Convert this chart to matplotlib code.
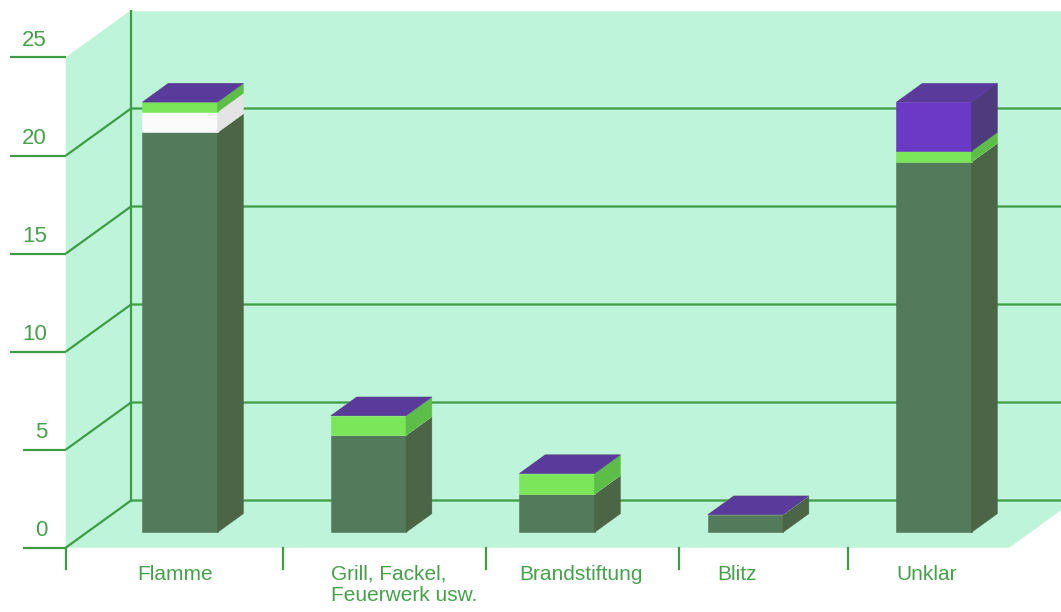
import matplotlib
matplotlib.use('Agg')
import matplotlib.pyplot as plt
from matplotlib.patches import Polygon

# data
categories = ['Flamme', 'Grill, Fackel,\nFeuerwerk usw.', 'Brandstiftung', 'Blitz', 'Unklar']
dark_vals = [20.4, 4.95, 1.95, 0.9, 18.9]
white_vals = [1.05, 0, 0, 0, 0]
light_vals = [0.5, 1.0, 1.05, 0, 0.55]
purple_vals = [0, 0, 0, 0, 2.5]
y_ticks = [0, 5, 10, 15, 20, 25]
grid_vals = [0, 5, 10, 15, 20]
separators = [-0.493, 0.658, 1.735, 2.759, 3.655]   # category dividers under the floor
label_shift = [-0.03, 0, 0, 0.05, 0]                 # small nudges of the category labels

# (front, side, top) colours per series
series = [
    (dark_vals, ('#537a5a', '#4b6546', '#5a8560')),
    (white_vals, ('#fbfbfb', '#e4e4e4', '#ffffff')),
    (light_vals, ('#7be65a', '#5cbd48', '#88ee68')),
    (purple_vals, ('#6a3ac6', '#4f3a7e', '#5a3a9a')),
]

WALL = '#bef4da'
GRID = '#3f9c45'
TEXT = '#47a04c'

# layout: pixel scale of the projection
X0, SX = 159.0, 188.5          # category 0 on the front plane, px per category
Y0, SY = 547.5, 19.6           # value 0 on the front plane, px per unit
DX, DY = 65.0 / SX, 47.0 / SY  # depth vector (front plane -> back wall)
X_LEFT = (66 - X0) / SX
X_RIGHT = (1009 - X0) / SX
Z_FRONT, Z_BACK = 0.323, 0.72
HALF_W = 0.199
Y_TOP = 25


def P(x, y, z):
    return (x + z * DX, y + z * DY)


def poly(ax, pts, color, z):
    ax.add_patch(Polygon(pts, closed=True, facecolor=color, edgecolor=color,
                         lw=0.4, zorder=z))


fig = plt.figure(figsize=(10.61, 6.12), dpi=100)
ax = fig.add_axes([0, 0, 1, 1])
ax.set_xlim((0 - X0) / SX, (1061 - X0) / SX)
ax.set_ylim((Y0 - 612) / SY, Y0 / SY)
ax.set_axis_off()

# walls and floor
poly(ax, [P(X_LEFT, 0, 0), P(X_LEFT, Y_TOP, 0), P(X_LEFT, Y_TOP, 1), P(X_LEFT, 0, 1)], WALL, 1)
poly(ax, [P(X_LEFT, 0, 1), P(X_RIGHT + 1, 0, 1), P(X_RIGHT + 1, Y_TOP, 1), P(X_LEFT, Y_TOP, 1)], WALL, 1)
poly(ax, [P(X_LEFT, 0, 0), P(X_RIGHT, 0, 0), P(X_RIGHT, 0, 1), P(X_LEFT, 0, 1)], WALL, 1)

# grid lines on the left wall and back wall
for v in grid_vals:
    a, b = P(X_LEFT, v, 0), P(X_LEFT, v, 1)
    c = P(X_RIGHT + 1, v, 1)
    ax.plot([a[0], b[0], c[0]], [a[1], b[1], c[1]], color=GRID, lw=1.6, zorder=2,
            solid_capstyle='butt')
a, b = P(X_LEFT, 0, 1), P(X_LEFT, Y_TOP, 1)
ax.plot([a[0], b[0]], [a[1], b[1]], color=GRID, lw=1.6, zorder=2)

# y ticks and labels on the front
for v in y_ticks:
    lab = str(v)
    x_start = (10 if len(lab) > 1 else 23) - X0
    ax.plot([x_start / SX, X_LEFT], [v, v], color=GRID, lw=1.6, zorder=2,
            solid_capstyle='butt')
    ax.text((47 - X0) / SX, v + 12 / SY, lab, ha='right', va='baseline',
            color=TEXT, fontsize=16, family='Liberation Sans')

# category dividers
for s in separators:
    ax.plot([s, s], [0, -21 / SY], color=GRID, lw=1.6, zorder=2)

# stacked 3D bars
zo = 10
for i, cat in enumerate(categories):
    xa, xb = i - HALF_W, i + HALF_W
    bottom = 0
    for vals, (c_front, c_side, c_top) in series:
        top = bottom + vals[i]
        if vals[i] > 0:
            poly(ax, [P(xa, bottom, Z_FRONT), P(xb, bottom, Z_FRONT),
                      P(xb, top, Z_FRONT), P(xa, top, Z_FRONT)], c_front, zo)
            poly(ax, [P(xb, bottom, Z_FRONT), P(xb, bottom, Z_BACK),
                      P(xb, top, Z_BACK), P(xb, top, Z_FRONT)], c_side, zo)
        poly(ax, [P(xa, top, Z_FRONT), P(xb, top, Z_FRONT),
                  P(xb, top, Z_BACK), P(xa, top, Z_BACK)], c_top, zo + 1)
        zo += 2
        bottom = top
    lx = P(xa, 0, Z_FRONT)[0] + label_shift[i]
    ax.text(lx, -17.5 / SY, cat, ha='left', va='top', color=TEXT,
            fontsize=15, family='Liberation Sans', linespacing=1.15)

fig.savefig('out.png', dpi=100)
